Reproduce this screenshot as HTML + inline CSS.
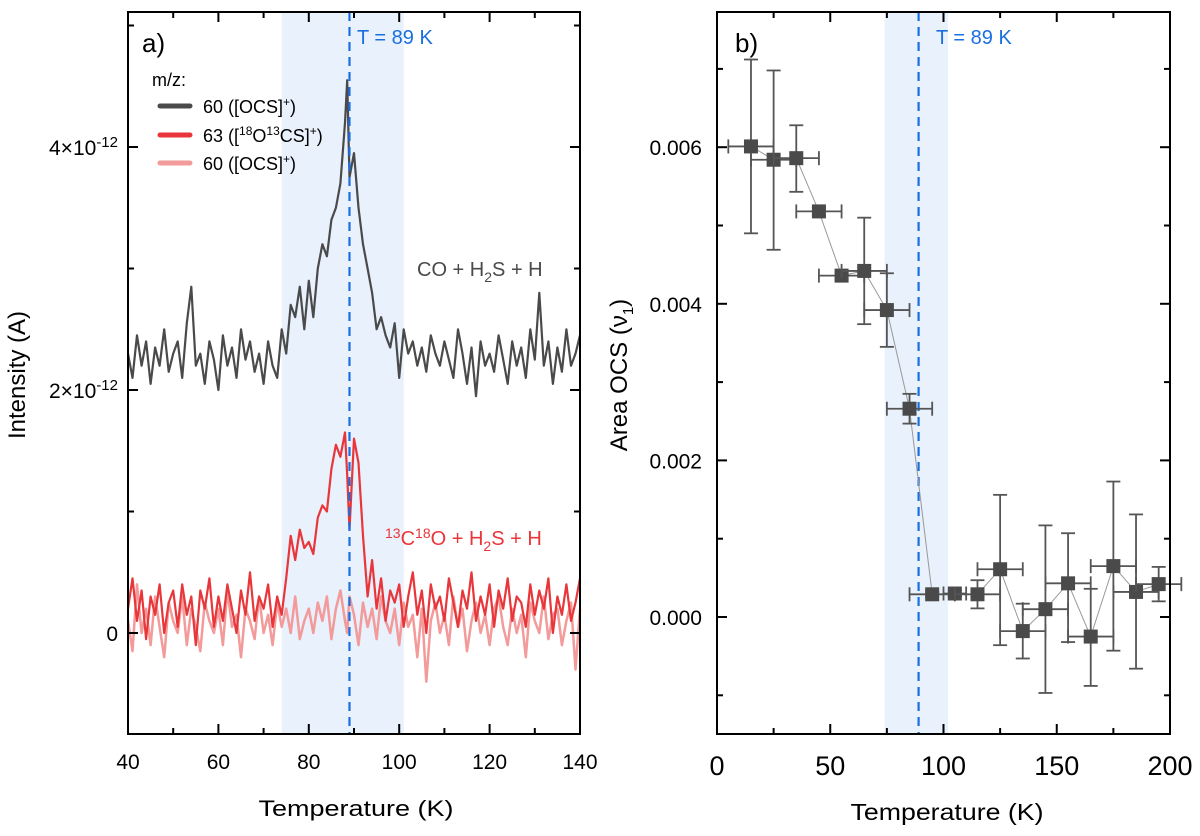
<!DOCTYPE html>
<html><head><meta charset="utf-8"><style>
body{margin:0;background:#fff;}
svg{font-family:"Liberation Sans",sans-serif;}
</style></head><body>
<svg id="c" width="1200" height="831" xmlns="http://www.w3.org/2000/svg"></svg>
<script>
const NS="http://www.w3.org/2000/svg";
// Panel a data (1e-12 A)
const tempsA=[40,41,42,43,44,45,46,47,48,49,50,51,52,53,54,55,56,57,58,59,60,61,62,63,64,65,66,67,68,69,70,71,72,73,74,75,76,77,78,79,80,81,82,83,84,85,86,87,88,88.5,89,90,91,92,93,94,95,96,97,98,99,100,101,102,103,104,105,106,107,108,109,110,111,112,113,114,115,116,117,118,119,120,121,122,123,124,125,126,127,128,129,130,131,132,133,134,135,136,137,138,139,140];
const ocsBlack=[2.3,2.1,2.45,2.2,2.4,2.05,2.35,2.2,2.5,2.15,2.3,2.4,2.1,2.55,2.85,2.2,2.3,2.05,2.4,2.25,2.0,2.45,2.2,2.35,2.1,2.5,2.25,2.4,2.15,2.3,2.05,2.4,2.2,2.1,2.5,2.3,2.7,2.6,2.85,2.5,2.9,2.6,3.0,3.2,3.1,3.4,3.5,3.7,4.2,4.55,3.75,3.95,3.5,3.2,3.0,2.8,2.5,2.6,2.45,2.35,2.55,2.1,2.5,2.3,2.4,2.2,2.35,2.15,2.45,2.3,2.2,2.4,2.25,2.1,2.5,2.3,2.05,2.35,1.95,2.4,2.2,2.3,2.15,2.45,2.25,2.05,2.4,2.2,2.35,2.1,2.5,2.25,2.8,2.2,2.4,2.05,2.35,2.15,2.5,2.2,2.3,2.45];
const isoRed=[0.2,0.45,0.1,0.35,-0.05,0.3,0.15,0.4,0.0,0.25,0.35,0.05,0.4,0.15,0.3,-0.1,0.35,0.2,0.45,0.05,0.3,0.1,0.4,0.2,0.0,0.35,0.15,0.5,0.1,0.3,0.2,0.4,0.05,0.3,0.15,0.45,0.8,0.6,0.85,0.7,0.75,0.65,0.95,1.05,1.0,1.35,1.55,1.45,1.65,1.3,0.85,1.6,1.4,0.8,0.3,0.6,0.2,0.45,0.1,0.35,0.25,0.4,0.05,0.3,0.5,0.15,0.35,0.0,0.4,0.2,0.3,0.1,0.45,0.25,0.05,0.35,0.2,0.5,0.1,0.3,0.15,0.4,0.05,0.35,0.2,0.45,0.1,0.3,0.25,0.05,0.4,0.15,0.35,0.2,0.45,0.0,0.3,0.15,0.4,0.1,0.25,0.45];
const ocsPink=[0.1,-0.15,0.4,0.0,0.2,-0.1,0.3,0.05,-0.2,0.25,0.1,0.0,0.3,-0.1,0.2,0.05,-0.15,0.25,0.1,0.0,0.2,-0.1,0.35,0.05,0.15,-0.2,0.2,0.1,-0.05,0.3,0.0,0.15,-0.1,0.25,0.05,0.2,0.0,0.3,-0.05,0.1,0.2,0.0,0.25,0.1,0.3,-0.05,0.2,0.35,0.1,0.0,0.3,0.15,-0.1,0.25,0.05,0.2,-0.05,0.3,0.1,0.0,0.2,-0.1,0.25,0.05,0.15,-0.2,0.2,-0.4,0.1,0.25,0.0,0.15,-0.1,0.3,0.05,0.2,-0.15,0.1,0.25,0.0,0.15,-0.1,0.2,0.3,0.05,-0.1,0.2,0.0,0.15,-0.2,0.25,0.1,0.0,0.3,-0.05,0.15,0.2,-0.1,0.1,0.25,-0.3,0.2];
// Panel b data
const tempsB=[15,25,35,45,55,65,75,85,95,105,115,125,135,145,155,165,175,185,195];
const areaB=[0.00601,0.00584,0.00586,0.00518,0.00436,0.00442,0.00392,0.00266,0.00029,0.00030,0.00029,0.00061,-0.00018,0.00010,0.00043,-0.00025,0.00065,0.00032,0.00042];
const errHi=[0.00712,0.00698,0.00628,0.00523,0.00440,0.0051,0.00439,0.00285,0.00032,0.00034,0.00047,0.00156,0.00017,0.00117,0.00107,0.00036,0.00173,0.00131,0.00064];
const errLo=[0.0049,0.00469,0.00543,0.00513,0.00432,0.00374,0.00345,0.00247,0.00026,0.00026,0.00011,-0.00036,-0.00053,-0.00097,-0.00032,-0.00088,-0.00043,-0.00066,0.00020];
const xErr=[10,10,10,10,10,10,10,10,10,5,10,10,10,10,10,10,10,10,10];
const ticksAx=[40,60,80,100,120,140];
const ticksAy=[0,2,4];
const ticksBx=[0,50,100,150,200];
const ticksBy=[0,0.002,0.004,0.006];

const svg=document.getElementById('c');
function el(t,a,p){const e=document.createElementNS(NS,t);for(const k in a)e.setAttribute(k,a[k]);(p||svg).appendChild(e);return e;}
const ax=v=>128+(v-40)*4.52, ay=v=>633-v*121.5;
const bx=v=>717+v*2.265, by=v=>617-v*78300;
const BOT=734;

// panel a
const ga=el('g',{});
let r=el('rect',{x:ax(74),y:12,width:ax(101)-ax(74),height:BOT-12,fill:'#e8f1fc'},ga);

function line(xs,ys,col,w,name,sx,sy,g){const d=xs.map((x,i)=>(i?'L':'M')+sx(x).toFixed(1)+','+sy(ys[i]).toFixed(1)).join('');const p=el('path',{d:d,fill:'none',stroke:col,'stroke-width':w,'stroke-linejoin':'round'},g);return p;}
line(tempsA,ocsPink,'#f39a9a',2.5,'series-ocs-60-pink',ax,ay,ga);
line(tempsA,isoRed,'#e8363a',2.2,'series-63-red',ax,ay,ga);
line(tempsA,ocsBlack,'#4a4a4a',2.2,'series-ocs-60-black',ax,ay,ga);
let d=el('line',{x1:ax(89),x2:ax(89),y1:12,y2:BOT,stroke:'#1a6fe0','stroke-width':2.2,'stroke-dasharray':'9,6'},ga);

let fr=el('rect',{x:128,y:12,width:452,height:BOT-12,fill:'none',stroke:'#000','stroke-width':2},ga);

for(let v=40;v<=140;v+=10){const x=ax(v);const L=v%20==0?10:6;el('line',{x1:x,x2:x,y1:BOT,y2:BOT-L,stroke:'#000','stroke-width':2},ga);el('line',{x1:x,x2:x,y1:12,y2:12+L,stroke:'#000','stroke-width':2},ga);}
ticksAx.forEach(v=>{const t=el('text',{x:ax(v),y:769,'font-size':21,'text-anchor':'middle'},ga);t.textContent=v;});
[0,1,2,3,4,5].forEach(v=>{const y=ay(v);const L=v%2==0?10:6;el('line',{x1:128,x2:128+L,y1:y,y2:y,stroke:'#000','stroke-width':2},ga);el('line',{x1:580,x2:580-L,y1:y,y2:y,stroke:'#000','stroke-width':2},ga);});
ticksAy.forEach(v=>{const t=el('text',{x:118,y:ay(v)+8,'font-size':21,'text-anchor':'end'},ga);if(v==0)t.textContent='0';else{t.innerHTML=v+'×10<tspan dy="-8" font-size="15">-12</tspan>';}});
let t=el('text',{x:25,y:375,'font-size':24,'text-anchor':'middle',transform:'rotate(-90 25 375)'},ga);t.textContent='Intensity (A)';
t=el('text',{x:356,y:816,'font-size':22,'text-anchor':'middle',textLength:195,lengthAdjust:'spacingAndGlyphs'},ga);t.textContent='Temperature (K)';
t=el('text',{x:142,y:52,'font-size':26},ga);t.textContent='a)';
t=el('text',{x:357,y:44,'font-size':20,fill:'#1a6fe0'},ga);t.textContent='T = 89 K';
t=el('text',{x:152,y:86,'font-size':18},ga);t.textContent='m/z:';
const leg=[['#4a4a4a','60 ([OCS]<tspan dy="-7" font-size="12">+</tspan><tspan dy="7">)</tspan>',106],['#e8363a','63 ([<tspan dy="-7" font-size="12">18</tspan><tspan dy="7">O</tspan><tspan dy="-7" font-size="12">13</tspan><tspan dy="7">CS]</tspan><tspan dy="-7" font-size="12">+</tspan><tspan dy="7">)</tspan>',135],['#f39a9a','60 ([OCS]<tspan dy="-7" font-size="12">+</tspan><tspan dy="7">)</tspan>',163]];
leg.forEach(l=>{const g=el('g',{},ga);el('line',{x1:160,x2:190,y1:l[2],y2:l[2],stroke:l[0],'stroke-width':5,'stroke-linecap':'round'},g);const tt=el('text',{x:203,y:l[2]+7,'font-size':18},g);tt.innerHTML=l[1];});
t=el('text',{x:417,y:276,'font-size':20,fill:'#4a4a4a'},ga);t.innerHTML='CO + H<tspan dy="6" font-size="14">2</tspan><tspan dy="-6">S + H</tspan>';
t=el('text',{x:385,y:545,'font-size':20,fill:'#e8363a'},ga);t.innerHTML='<tspan dy="-7" font-size="14">13</tspan><tspan dy="7">C</tspan><tspan dy="-7" font-size="14">18</tspan><tspan dy="7">O + H</tspan><tspan dy="6" font-size="14">2</tspan><tspan dy="-6">S + H</tspan>';

// panel b
const gb=el('g',{});
r=el('rect',{x:bx(74),y:12,width:bx(102)-bx(74),height:BOT-12,fill:'#e8f1fc'},gb);
d=el('line',{x1:bx(89),x2:bx(89),y1:12,y2:BOT,stroke:'#1a6fe0','stroke-width':2.2,'stroke-dasharray':'9,6'},gb);
line(tempsB,areaB,'#999',1,'area-connect-line',bx,by,gb);
tempsB.forEach((v,i)=>{const g=el('g',{stroke:'#555','stroke-width':1.8},gb);
const x=bx(v),y=by(areaB[i]);el('line',{x1:x,x2:x,y1:by(errHi[i]),y2:by(errLo[i])},g);el('line',{x1:x-7,x2:x+7,y1:by(errHi[i]),y2:by(errHi[i])},g);el('line',{x1:x-7,x2:x+7,y1:by(errLo[i]),y2:by(errLo[i])},g);
const x1=bx(v-xErr[i]),x2=bx(v+xErr[i]);el('line',{x1:x1,x2:x2,y1:y,y2:y},g);el('line',{x1:x1,x2:x1,y1:y-7,y2:y+7},g);el('line',{x1:x2,x2:x2,y1:y-7,y2:y+7},g);
el('rect',{x:x-7,y:y-7,width:14,height:14,fill:'#4a4a4a',stroke:'none'},g);});
fr=el('rect',{x:717,y:12,width:453,height:BOT-12,fill:'none',stroke:'#000','stroke-width':2},gb);
for(let v=0;v<=200;v+=25){const x=bx(v);const L=v%50==0?10:6;el('line',{x1:x,x2:x,y1:BOT,y2:BOT-L,stroke:'#000','stroke-width':2},gb);el('line',{x1:x,x2:x,y1:12,y2:12+L,stroke:'#000','stroke-width':2},gb);}
for(let k=-1;k<=7;k++){const y=by(k*0.001);const L=k%2==0?10:6;el('line',{x1:717,x2:717+L,y1:y,y2:y,stroke:'#000','stroke-width':2},gb);el('line',{x1:1170,x2:1170-L,y1:y,y2:y,stroke:'#000','stroke-width':2},gb);}
ticksBx.forEach(v=>{const t=el('text',{x:bx(v),y:775,'font-size':27,'text-anchor':'middle'},gb);t.textContent=v;});
ticksBy.forEach(v=>{const t=el('text',{x:702,y:by(v)+8,'font-size':21,'text-anchor':'end'},gb);t.textContent=v.toFixed(3);});
t=el('text',{x:627,y:375,'font-size':24,'text-anchor':'middle',transform:'rotate(-90 627 375)'},gb);t.innerHTML='Area OCS (ν<tspan dy="6" font-size="15">1</tspan><tspan dy="-6">)</tspan>';
t=el('text',{x:947,y:820,'font-size':23,'text-anchor':'middle',textLength:193,lengthAdjust:'spacingAndGlyphs'},gb);t.textContent='Temperature (K)';
t=el('text',{x:735,y:52,'font-size':26},gb);t.textContent='b)';
t=el('text',{x:936,y:44,'font-size':20,fill:'#1a6fe0'},gb);t.textContent='T = 89 K';
</script>
</body></html>
